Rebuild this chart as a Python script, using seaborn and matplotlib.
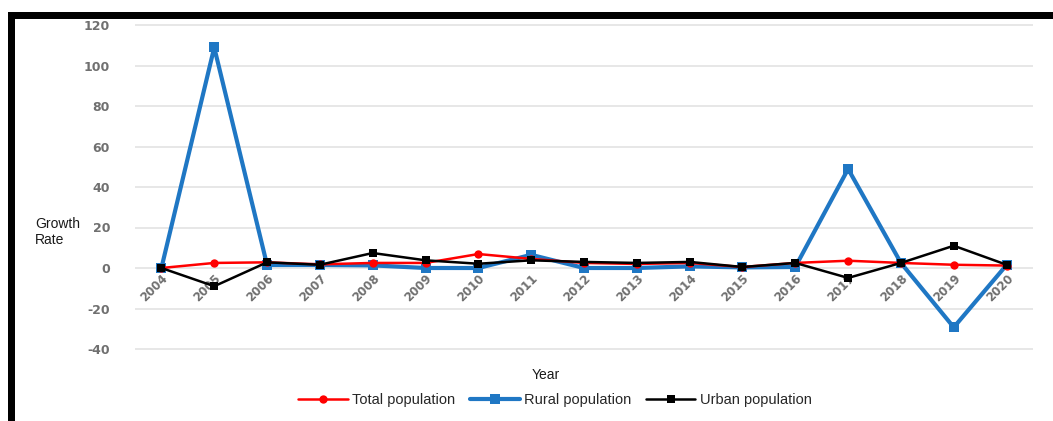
import matplotlib
matplotlib.use("Agg")
import matplotlib.pyplot as plt
from matplotlib.patches import Rectangle
import seaborn as sns
import pandas as pd

years = list(range(2004, 2021))
total_population = [0, 2.5, 2.8, 1.8, 2.5, 2.5, 6.9, 4.5, 2.5, 2.0, 2.5, 0.5, 2.5, 3.6, 2.5, 1.6, 1.2]
rural_population = [0, 108.9, 1.5, 1.5, 1.3, 0, 0, 6.5, 0, 0, 0.8, 0.3, 0.5, 48.9, 2.5, -29.3, 1.5]
urban_population = [0, -9, 2.8, 1.6, 7.4, 3.8, 2.1, 3.8, 3.0, 2.5, 3.0, 0.5, 2.5, -4.9, 2.5, 11.0, 1.6]

df = pd.DataFrame({
    "Year": years,
    "Total population": total_population,
    "Rural population": rural_population,
    "Urban population": urban_population,
})

sns.set_theme(style="white")
plt.rcParams["font.family"] = ["DejaVu Sans"]
plt.rcParams["axes.unicode_minus"] = False

W, H = 1053, 421
fig = plt.figure(figsize=(W / 100, H / 100), dpi=100)
fig.patch.set_facecolor("white")

# axes placement in pixel terms
ymin, ymax = -41, 121
px_per_unit = 2.025
top_px = 25 - (ymax - 120) * px_per_unit
bot_px = 349 + (-40 - ymin) * px_per_unit
left_px, right_px = 135, 1033
ax = fig.add_axes([left_px / W, 1 - bot_px / H, (right_px - left_px) / W, (bot_px - top_px) / H])
ax.set_facecolor("white")

sns.lineplot(data=df, x="Year", y="Rural population", ax=ax, color="#1f77c4",
             linewidth=3.0, marker="s", markersize=6.5, markeredgewidth=0,
             label="Rural population", zorder=3)
sns.lineplot(data=df, x="Year", y="Total population", ax=ax, color="#ff0000",
             linewidth=1.8, marker="o", markersize=6, markeredgewidth=0,
             label="Total population", zorder=4)
sns.lineplot(data=df, x="Year", y="Urban population", ax=ax, color="#000000",
             linewidth=1.8, marker="s", markersize=5.5, markeredgewidth=0,
             label="Urban population", zorder=5)

ax.set_xlim(2003.5, 2020.5)
ax.set_ylim(ymin, ymax)
ax.set_yticks(range(-40, 121, 20))
ax.set_xticks(years)
ax.grid(axis="y", color="#e3e3e3", linewidth=1.2, zorder=0)
ax.grid(axis="x", visible=False)
for s in ["top", "right", "left"]:
    ax.spines[s].set_visible(False)
ax.spines["bottom"].set_position(("data", 0))
ax.spines["bottom"].set_visible(False)

ax.tick_params(axis="y", length=0, pad=18, labelsize=9, labelcolor="#707070")
ax.tick_params(axis="x", length=0, pad=3, labelsize=8.5, labelcolor="#707070")
for lab in ax.get_yticklabels():
    lab.set_fontweight("bold")
for lab in ax.get_xticklabels():
    lab.set_rotation(45)
    lab.set_ha("right")
    lab.set_va("top")
    lab.set_rotation_mode("anchor")
    lab.set_fontweight("bold")

ax.set_xlabel("")
ax.set_ylabel("")

fig.text(35 / W, 1 - 232 / H, "Growth\nRate", ha="left", va="center",
         fontsize=10, family="Liberation Sans", color="#1a1a1a", linespacing=1.25)
fig.text(546 / W, 1 - 375 / H, "Year", ha="center", va="center",
         fontsize=10, family="Liberation Sans", color="#1a1a1a")

handles, labels = ax.get_legend_handles_labels()
order = [labels.index(n) for n in ["Total population", "Rural population", "Urban population"]]
ax.legend([handles[i] for i in order], [labels[i] for i in order],
          loc="center", bbox_to_anchor=(555 / W, 1 - 400 / H), bbox_transform=fig.transFigure,
          ncol=3, frameon=False, handlelength=3.4, columnspacing=1.0, handletextpad=0.3,
          prop={"family": "Liberation Sans", "size": 10.5})

# black frame strips along the top and left edges
fig.patches.append(Rectangle((8 / W, 1 - 19 / H), 1 - 8 / W, 7 / H, transform=fig.transFigure,
                             facecolor="black", edgecolor="none", zorder=10))
fig.patches.append(Rectangle((8 / W, 0), 7 / W, 1 - 12 / H, transform=fig.transFigure,
                             facecolor="black", edgecolor="none", zorder=10))

fig.savefig("out.png", dpi=100, facecolor="white")
